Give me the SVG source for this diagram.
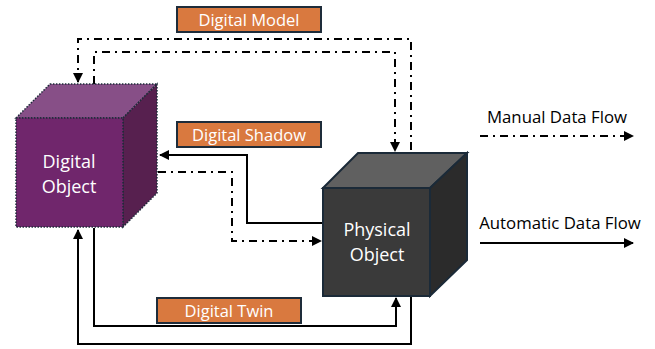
<svg xmlns="http://www.w3.org/2000/svg" width="655" height="349" viewBox="0 0 655 349">
<style>
.t{font-family:"Open Sans","Noto Sans","Liberation Sans",sans-serif;}
.lbl{fill:#D9793F;stroke:#1E2C3A;stroke-width:2;}
.lt{fill:#fff;font-size:16.5px;text-anchor:middle;}
.ct{fill:#fff;font-size:18px;text-anchor:middle;}
.leg{fill:#000;font-size:16.8px;text-anchor:middle;}
.solid{fill:none;stroke:#000;stroke-width:2;}
.dd{fill:none;stroke:#000;stroke-width:2;stroke-dasharray:8 5 2 5;}
</style>
<defs>
<marker id="ah" viewBox="0 0 10 10" refX="9" refY="5" markerWidth="5" markerHeight="5" orient="auto" markerUnits="strokeWidth">
<path d="M0,0 L10,5 L0,10 Z" fill="#000"/>
</marker>
</defs>
<rect width="655" height="349" fill="#fff"/>

<g id="connectors">
<!-- Digital Model -->
<path class="dd" d="M411,150 V39 H78 V82" marker-end="url(#ah)"/>
<path class="dd" d="M94,84 V52 H395 V151" marker-end="url(#ah)"/>
<!-- Digital Shadow -->
<path class="solid" d="M323,223 H247 V155 H160" marker-end="url(#ah)"/>
<path class="dd" d="M158,172 H232 V241 H321" marker-end="url(#ah)"/>
<!-- Digital Twin -->
<path class="solid" d="M94,228 V326 H396 V298" marker-end="url(#ah)"/>
<path class="solid" d="M411,297 V344 H78 V230" marker-end="url(#ah)"/>
</g>

<g id="digital-object">
<polygon points="16,118 50,84 157,84 123,118" fill="#874F87" stroke="#1E2C3A" stroke-width="1.5" stroke-dasharray="1.5 1.5"/>
<polygon points="123,118 157,84 157,193 123,227" fill="#57204F" stroke="#1E2C3A" stroke-width="1.5" stroke-dasharray="1.5 1.5"/>
<rect x="16" y="118" width="107" height="109" fill="#70266C" stroke="#1E2C3A" stroke-width="1.5" stroke-dasharray="1.5 1.5"/>
<text class="t ct" x="69" y="168">Digital</text>
<text class="t ct" x="69" y="193">Object</text>
</g>

<g id="physical-object">
<polygon points="323,188 358,153 467,153 430,188" fill="#606060" stroke="#1B2A38" stroke-width="2"/>
<polygon points="430,188 467,153 467,260 430,296" fill="#2B2B2B" stroke="#1B2A38" stroke-width="2"/>
<rect x="323" y="188" width="107" height="108" fill="#3A3A3A" stroke="#1B2A38" stroke-width="2"/>
<text class="t ct" x="377" y="236">Physical</text>
<text class="t ct" x="377" y="261">Object</text>
</g>

<g id="label-digital-model">
<rect class="lbl" x="177" y="7" width="144" height="25"/>
<text class="t lt" x="249" y="25.5">Digital Model</text>
</g>
<g id="label-digital-shadow">
<rect class="lbl" x="177" y="122" width="144" height="25"/>
<text class="t lt" x="249" y="140.5">Digital Shadow</text>
</g>
<g id="label-digital-twin">
<rect class="lbl" x="157" y="298" width="144" height="25"/>
<text class="t lt" x="229" y="316.5">Digital Twin</text>
</g>

<g id="legend">
<text class="t leg" x="557" y="123">Manual Data Flow</text>
<path class="dd" d="M480,136 H633" marker-end="url(#ah)"/>
<text class="t leg" x="560" y="229">Automatic Data Flow</text>
<path class="solid" d="M480,243 H633" marker-end="url(#ah)"/>
</g>
</svg>
